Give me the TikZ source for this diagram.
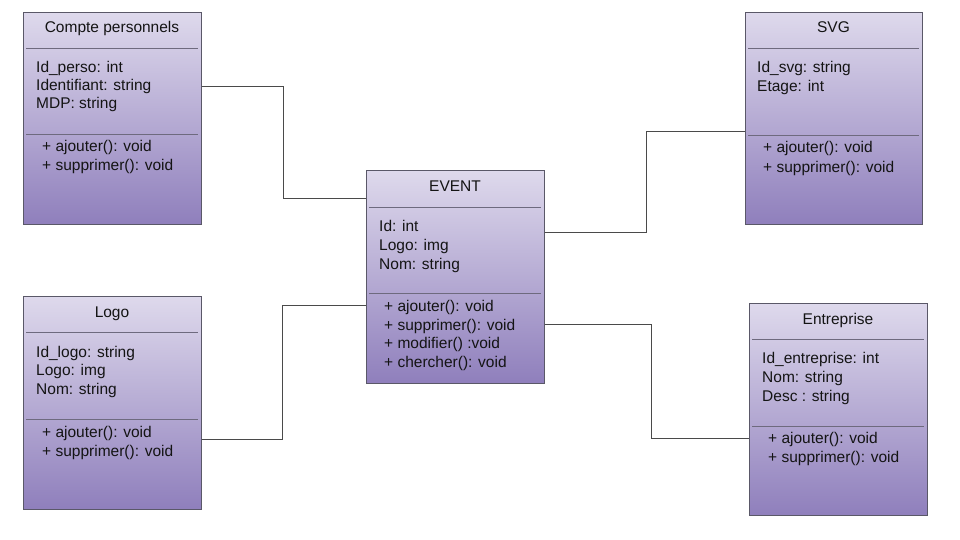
\documentclass[tikz,border=0pt]{standalone}
\usepackage{fontspec}
\setmainfont{Liberation Sans}
\definecolor{boxtop}{HTML}{DED9EC}
\definecolor{boxbot}{HTML}{8F7FBC}
\definecolor{boxline}{HTML}{5A5868}
\definecolor{sepline}{HTML}{6E6A7E}
\definecolor{conline}{HTML}{4A4A4A}
\tikzset{
  umlbox/.style={draw=boxline, line width=0.9pt, top color=boxtop, bottom color=boxbot, rectangle, inner sep=0pt, anchor=north west},
  sepln/.style={draw=sepline, line width=0.8pt},
  txt/.style={anchor=base west, inner sep=0pt, font=\fontsize{15.5}{18}\selectfont, text=black!92},
  ttl/.style={anchor=base, inner sep=0pt, font=\fontsize{15.5}{18}\selectfont, text=black!92},
  conn/.style={draw=conline, line width=0.9pt}
}
\begin{document}
\begin{tikzpicture}[x=1pt,y=-1pt]
\useasboundingbox (0,0) rectangle (960,540);
\fill[white] (0,0) rectangle (960,540);

% Compte personnels
\node[umlbox, minimum width=178pt, minimum height=212pt] (cp) at (23,12) {};
\node[ttl] (cpt) at (112,33) {Compte personnels};
\draw[sepln] (26,48) -- (198,48);
\draw[sepln] (26,134) -- (198,134);
\node[txt] (cpa1) at (36,73) {Id\_perso: int};
\node[txt] (cpa2) at (36,91) {Identifiant: string};
\node[txt] (cpa3) at (36,109) {MDP: string};
\node[txt] (cpm1) at (42,152) {+ ajouter(): void};
\node[txt] (cpm2) at (42,171) {+ supprimer(): void};

% Logo
\node[umlbox, minimum width=178pt, minimum height=213pt] (lg) at (23,296) {};
\node[ttl] (lgt) at (112,317) {Logo};
\draw[sepln] (26,332) -- (198,332);
\draw[sepln] (26,419) -- (198,419);
\node[txt] (lga1) at (36,357) {Id\_logo: string};
\node[txt] (lga2) at (36,375) {Logo: img};
\node[txt] (lga3) at (36,394) {Nom: string};
\node[txt] (lgm1) at (42,437) {+ ajouter(): void};
\node[txt] (lgm2) at (42,456) {+ supprimer(): void};

% EVENT
\node[umlbox, minimum width=178pt, minimum height=213pt] (ev) at (366,170) {};
\node[ttl] (evt) at (455,191) {EVENT};
\draw[sepln] (369,207) -- (541,207);
\draw[sepln] (369,293) -- (541,293);
\node[txt] (eva1) at (379,231) {Id: int};
\node[txt] (eva2) at (379,250) {Logo: img};
\node[txt] (eva3) at (379,269) {Nom: string};
\node[txt] (evm1) at (384,311) {+ ajouter(): void};
\node[txt] (evm2) at (384,330) {+ supprimer(): void};
\node[txt] (evm3) at (384,348) {+ modifier() :void};
\node[txt] (evm4) at (384,367) {+ chercher(): void};

% SVG
\node[umlbox, minimum width=177pt, minimum height=212pt] (sv) at (745,12) {};
\node[ttl] (svt) at (833.5,33) {SVG};
\draw[sepln] (748,48) -- (919,48);
\draw[sepln] (748,135) -- (919,135);
\node[txt] (sva1) at (757,73) {Id\_svg: string};
\node[txt] (sva2) at (757,92) {Etage: int};
\node[txt] (svm1) at (763,153) {+ ajouter(): void};
\node[txt] (svm2) at (763,172) {+ supprimer(): void};

% Entreprise
\node[umlbox, minimum width=178pt, minimum height=212pt] (en) at (749,303) {};
\node[ttl] (ent) at (838,324) {Entreprise};
\draw[sepln] (752,339) -- (924,339);
\draw[sepln] (752,426) -- (924,426);
\node[txt] (ena1) at (762,363) {Id\_entreprise: int};
\node[txt] (ena2) at (762,382) {Nom: string};
\node[txt] (ena3) at (762,401) {Desc : string};
\node[txt] (enm1) at (768,443) {+ ajouter(): void};
\node[txt] (enm2) at (768,462) {+ supprimer(): void};

% connectors
\coordinate (c1) at (283,86);
\coordinate (c2) at (282,305);
\coordinate (c3) at (646,232);
\coordinate (c4) at (651,324);
\draw[conn] (cp.east |- c1) -- (c1) |- (ev.west |- 0,198);
\draw[conn] (lg.east |- 0,439) -| (c2) -- (ev.west |- c2);
\draw[conn] (ev.east |- c3) -- (c3) |- (sv.west |- 0,131);
\draw[conn] (ev.east |- c4) -- (c4) |- (en.west |- 0,438);
\end{tikzpicture}
\end{document}
